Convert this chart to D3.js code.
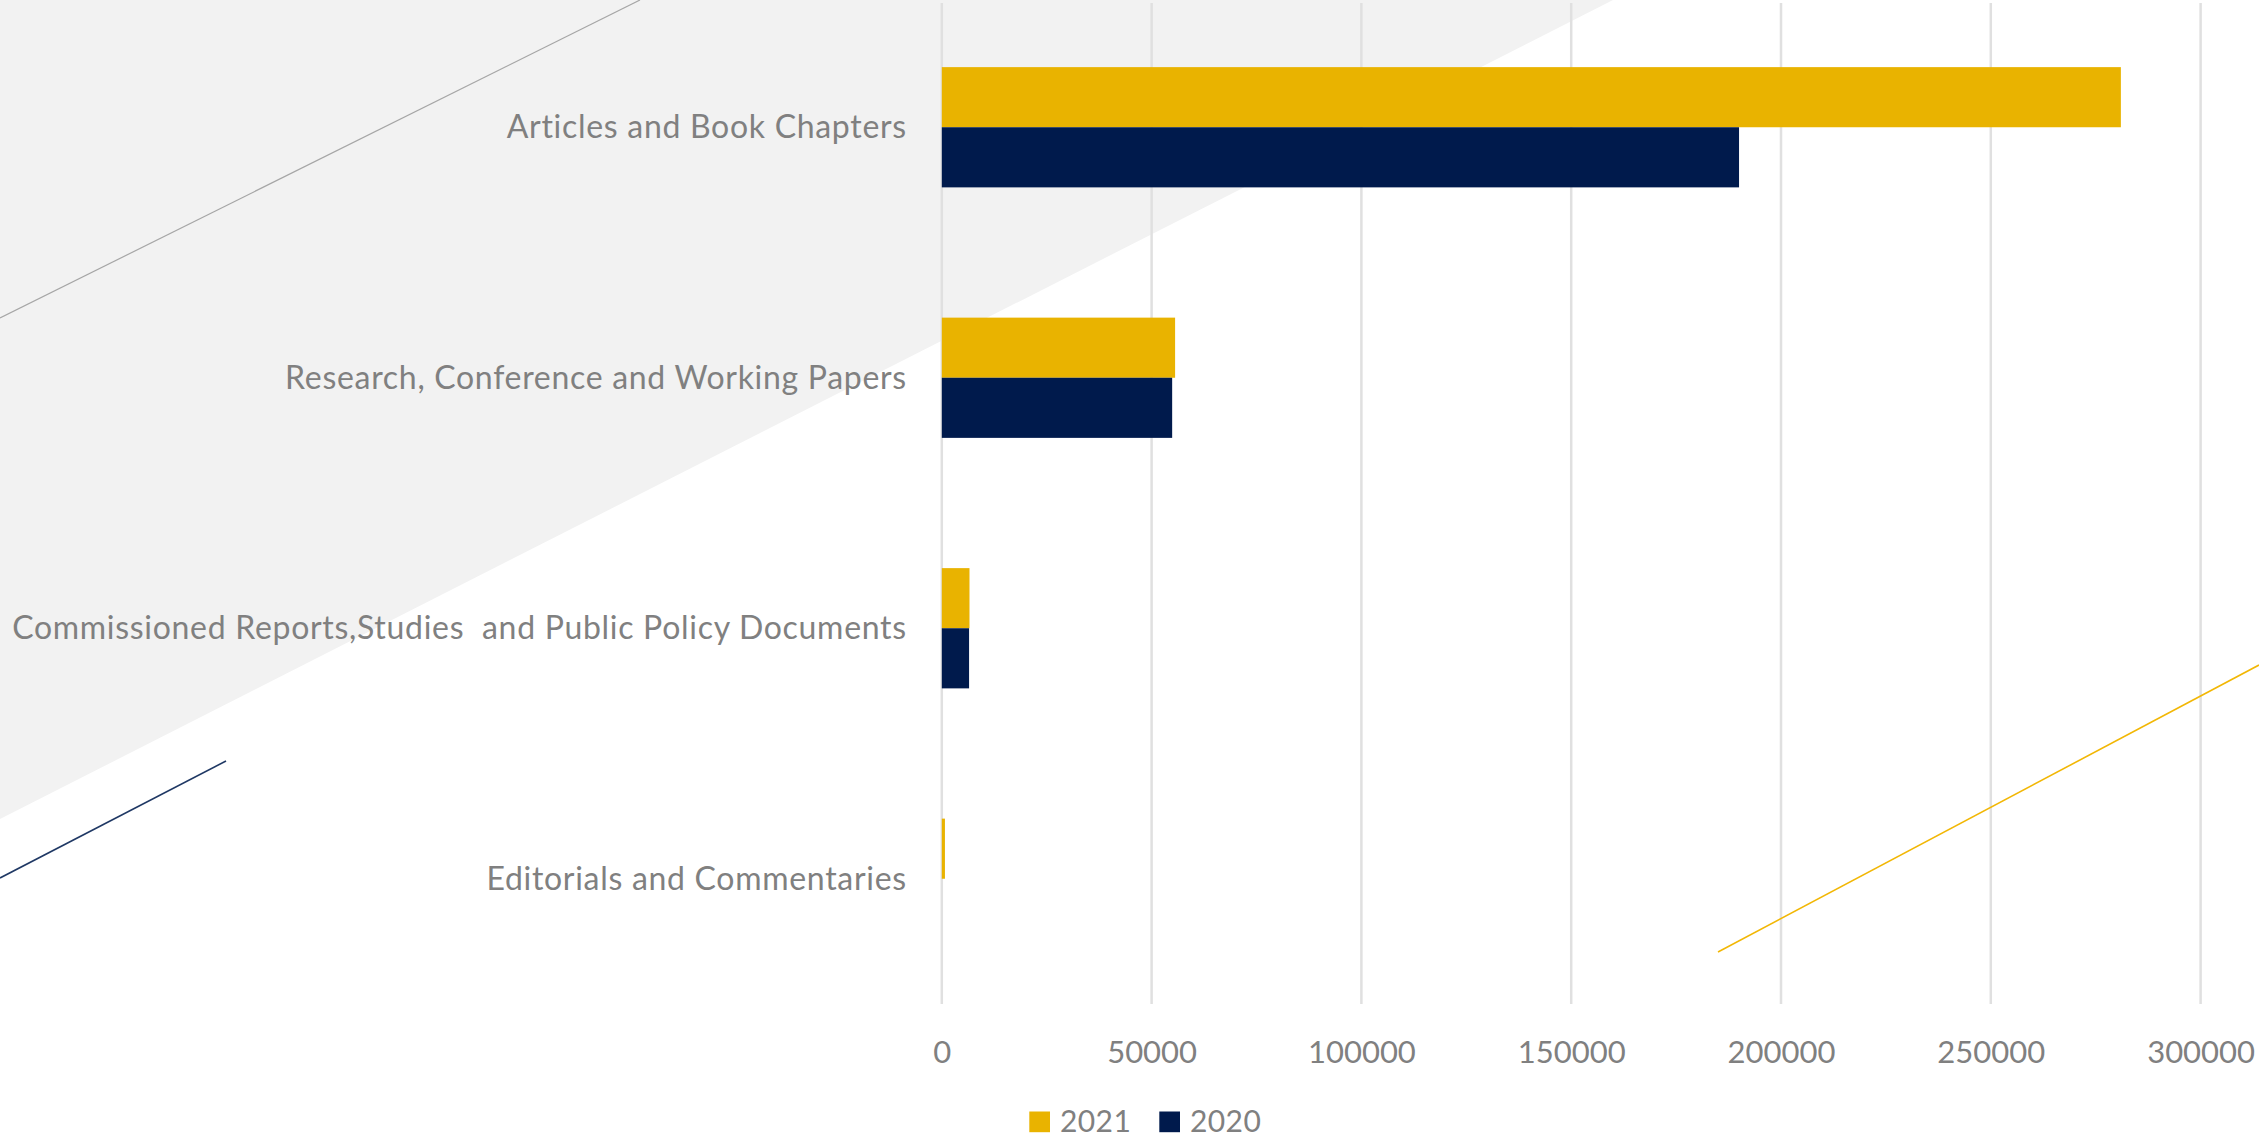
<!DOCTYPE html>
<html>
<head>
<meta charset="utf-8">
<script src="https://cdn.jsdelivr.net/npm/d3@7"></script>
<style>
  html, body { margin: 0; padding: 0; background: #ffffff; }
  svg { display: block; }
  text { font-family: Lato, "Open Sans", sans-serif; fill: #808080; white-space: pre; }
</style>
</head>
<body>
<script>
// ---- data ----
const categories = [
  "Articles and Book Chapters",
  "Research, Conference and Working Papers",
  "Commissioned Reports,Studies  and Public Policy Documents",
  "Editorials and Commentaries"
];
const seriesNames = ["2021", "2020"];
const values2021 = [281000, 55600, 6600, 750];
const values2020 = [190000, 54900, 6500, 0];
const xTickValues = [0, 50000, 100000, 150000, 200000, 250000, 300000];
const seriesColors = ["#E9B300", "#001A4C"];

// ---- layout ----
const W = 2259, H = 1139;
const svg = d3.select("body").append("svg").attr("width", W).attr("height", H);

// decorative background
svg.append("polygon")
  .attr("points", "0,0 1613,0 0,819")
  .attr("fill", "#f2f2f2");
svg.append("line").attr("x1", 640).attr("y1", 0).attr("x2", 0).attr("y2", 318)
  .attr("stroke", "#a6a6a6").attr("stroke-width", 1.2);
svg.append("line").attr("x1", 226).attr("y1", 761).attr("x2", 0).attr("y2", 878)
  .attr("stroke", "#1f3864").attr("stroke-width", 1.6);

const plotTop = 2, plotBottom = 1004;
const x = d3.scaleLinear().domain([0, 300000]).range([941.8, 2200.6]);
const y = d3.scaleBand().domain(categories).range([plotTop, plotBottom])
  .paddingInner(0.52).paddingOuter(0.26);
const ySub = d3.scaleBand().domain(seriesNames).range([0, y.bandwidth()]);
const color = d3.scaleOrdinal().domain(seriesNames).range(seriesColors);

// gridlines
svg.append("g").selectAll("line").data(xTickValues).join("line")
  .attr("x1", d => x(d)).attr("x2", d => x(d))
  .attr("y1", 3).attr("y2", plotBottom)
  .attr("stroke", "#e0e0e0").attr("stroke-width", 2.5);

// bars
const rows = categories.map((c, i) => ({
  category: c,
  values: [
    { series: "2021", value: values2021[i] },
    { series: "2020", value: values2020[i] }
  ]
}));
const groups = svg.append("g").selectAll("g").data(rows).join("g")
  .attr("transform", d => `translate(0,${y(d.category)})`);
groups.selectAll("rect").data(d => d.values).join("rect")
  .attr("x", x(0))
  .attr("y", d => ySub(d.series))
  .attr("width", d => x(d.value) - x(0))
  .attr("height", ySub.bandwidth())
  .attr("fill", d => color(d.series));

// decorative yellow line (over gridlines)
svg.append("line").attr("x1", 1718).attr("y1", 952).attr("x2", 2259).attr("y2", 665)
  .attr("stroke", "#F2B705").attr("stroke-width", 1.6);

// x axis labels
const xAxis = d3.axisBottom(x).tickValues(xTickValues).tickFormat(d3.format("d"))
  .tickSize(0).tickPadding(37);
const gx = svg.append("g").attr("transform", `translate(0,${plotBottom})`).call(xAxis);
gx.select(".domain").remove();
gx.selectAll("text").attr("font-size", 31).attr("fill", "#808080")
  .style("font-family", "Lato, 'Open Sans', sans-serif");

// y axis labels
const yAxis = d3.axisLeft(y).tickSize(0).tickPadding(35);
const gy = svg.append("g").attr("transform", `translate(${x(0)},0)`).call(yAxis);
gy.select(".domain").remove();
gy.selectAll("text").attr("font-size", 32).attr("fill", "#808080").attr("dy", "0.34em")
  .style("font-family", "Lato, 'Open Sans', sans-serif")
  .style("letter-spacing", "0.7px")
  .attr("xml:space", "preserve");

// legend
const legendX = [1029.3, 1159.3];
const legend = svg.append("g").selectAll("g").data(seriesNames).join("g")
  .attr("transform", (d, i) => `translate(${legendX[i]},1111.5)`);
legend.append("rect").attr("width", 20.7).attr("height", 20.7)
  .attr("fill", d => color(d));
legend.append("text").attr("x", 30.7).attr("y", 20.5)
  .attr("font-size", 30).style("letter-spacing", "0.4px").text(d => d);
</script>
</body>
</html>
